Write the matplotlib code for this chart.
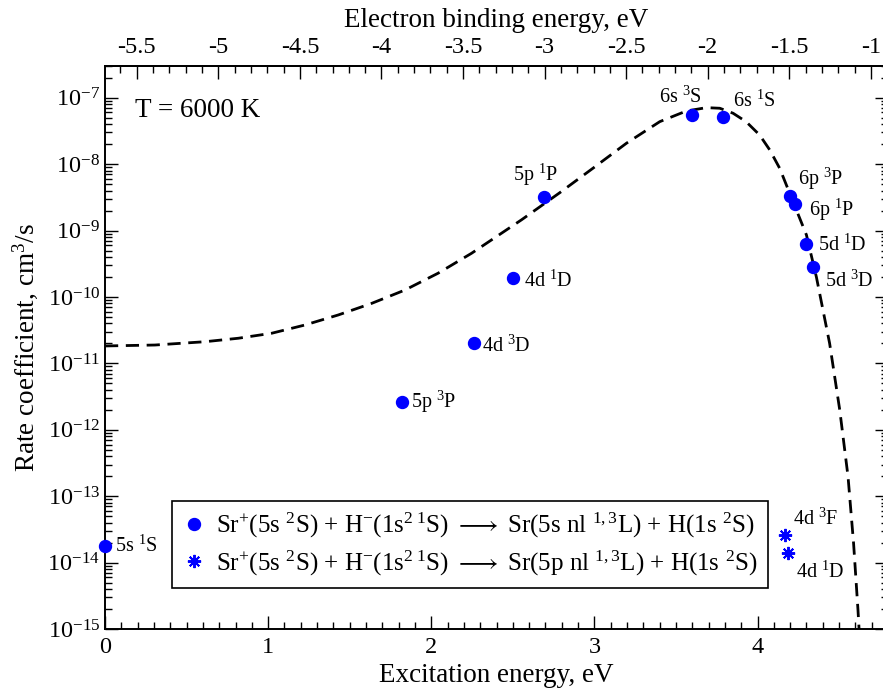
import matplotlib
matplotlib.use('Agg')
import matplotlib.pyplot as plt
from matplotlib.lines import Line2D
from matplotlib.ticker import (LogLocator, FixedLocator, MultipleLocator,
                               FuncFormatter, NullFormatter)
import numpy as np

plt.rcParams['font.family'] = ['Liberation Serif', 'DejaVu Serif']
plt.rcParams['mathtext.fontset'] = 'custom'
plt.rcParams['mathtext.rm'] = 'Liberation Serif'
plt.rcParams['mathtext.it'] = 'Liberation Serif:italic'
plt.rcParams['mathtext.bf'] = 'Liberation Serif:bold'
plt.rcParams['axes.unicode_minus'] = False
plt.rcParams['lines.scale_dashes'] = False

# ---------------- data ----------------
ionization_energy = 5.695  # eV, binding = excitation - IP

states_5s = ["5s $^1$S", "5p $^3$P", "4d $^3$D", "4d $^1$D", "5p $^1$P",
             "6s $^3$S", "6s $^1$S", "6p $^3$P", "6p $^1$P", "5d $^1$D", "5d $^3$D"]
energy_5s = [0.0, 1.82, 2.26, 2.50, 2.69, 3.60, 3.79, 4.20, 4.23, 4.30, 4.34]
rate_5s = [1.78e-14, 2.65e-12, 2.0e-11, 1.91e-10, 3.16e-9, 5.45e-8, 5.08e-8,
           3.36e-9, 2.49e-9, 6.28e-10, 2.86e-10]

states_5p = ["4d $^3$F", "4d $^1$D"]
energy_5p = [4.17, 4.19]
rate_5p = [2.6e-14, 1.41e-14]

curve_energy = [0.000, 0.306, 0.613, 0.817, 1.021, 1.225, 1.430, 1.634, 1.838,
                2.042, 2.247, 2.553, 2.788, 2.992, 3.197, 3.401, 3.564, 3.687,
                3.769, 3.850, 3.930, 4.013, 4.075, 4.136, 4.218, 4.300, 4.361,
                4.442, 4.504, 4.555, 4.589, 4.616, 4.625]
curve_rate = [1.83e-11, 1.89e-11, 2.12e-11, 2.39e-11, 2.84e-11, 3.78e-11,
              5.36e-11, 8.0e-11, 1.27e-10, 2.28e-10, 4.55e-10, 1.45e-9,
              3.72e-9, 8.71e-9, 2.07e-8, 4.37e-8, 6.32e-8, 7.10e-8, 6.95e-8,
              5.85e-8, 4.37e-8, 2.75e-8, 1.64e-8, 8.67e-9, 2.72e-9, 8.59e-10,
              2.0e-10, 2.01e-11, 2.0e-12, 1.97e-13, 1.95e-14, 1.93e-15, 7.9e-16]

legend_labels = [
    r"Sr$^{+}$(5s $^{2}$S) + H$^{-}$(1s$^{2\ 1}$S) $\longrightarrow$ Sr(5s nl $^{1,3}$L) + H(1s $^{2}$S)",
    r"Sr$^{+}$(5s $^{2}$S) + H$^{-}$(1s$^{2\ 1}$S) $\longrightarrow$ Sr(5p nl $^{1,3}$L) + H(1s $^{2}$S)",
]

# label offsets (pixels: dx right, dy up) -- styling only
offsets_5s_px = [(10, -6), (9, -6), (8, -8), (11.5, -8), (-31, 17), (-33, 12),
                 (10, 10), (7.5, 11), (14, -12), (12, -7), (12, -20)]
offsets_5p_px = [(7.5, 10), (7.5, -25.5)]

# ---------------- figure ----------------
W, H = 883, 689
fig = plt.figure(figsize=(W / 100, H / 100), dpi=100)
ax = fig.add_axes([105 / W, (H - 629) / H, (888 - 105) / W, (629 - 65.7) / H])

ax.set_yscale('log')
ax.set_xlim(0, 4.8)
ax.set_ylim(1e-15, 3.04e-7)

blue = '#0000ff'
star = (8, 2, 0)
ax.plot(curve_energy, curve_rate, color='black', lw=2.0, ls=(0, (9.5, 5.5)),
        zorder=2)
ax.plot(energy_5s, rate_5s, ls='none', marker='o', ms=8.6, color=blue,
        mec=blue, zorder=3, clip_on=False)
ax.plot(energy_5p, rate_5p, ls='none', marker=star, ms=9.5, mew=1.4,
        color=blue, zorder=3)

px2pt = 0.72
for name, e, r, (dx, dy) in zip(states_5s, energy_5s, rate_5s, offsets_5s_px):
    ax.annotate(name, (e, r), xytext=(dx * px2pt, dy * px2pt),
                textcoords='offset points', ha='left', va='baseline',
                fontsize=14.5)
for name, e, r, (dx, dy) in zip(states_5p, energy_5p, rate_5p, offsets_5p_px):
    ax.annotate(name, (e, r), xytext=(dx * px2pt, dy * px2pt),
                textcoords='offset points', ha='left', va='baseline',
                fontsize=14.5)

ax.text((135 - 105) / 783, (629 - 117) / 563.3, "T = 6000 K",
        transform=ax.transAxes, fontsize=19.5, ha='left', va='baseline')

# ticks
ax.xaxis.set_major_locator(MultipleLocator(1))
ax.xaxis.set_minor_locator(MultipleLocator(0.1))
ax.xaxis.set_major_formatter(FuncFormatter(lambda v, p: "%g" % v))
ax.yaxis.set_major_locator(FixedLocator([10.0 ** k for k in range(-15, -6)]))
ax.yaxis.set_minor_locator(LogLocator(base=10, subs=np.arange(2, 10), numticks=300))
ax.yaxis.set_minor_formatter(NullFormatter())
ax.yaxis.set_major_formatter(FuncFormatter(
    lambda v, p: r"$10^{%d}$" % int(round(np.log10(v)))))

ax.tick_params(which='both', direction='in', top=False, right=True,
               width=1.0, labelsize=17.5)
ax.tick_params(which='major', length=9.6)
ax.tick_params(which='minor', length=4.7)
ax.tick_params(axis='x', pad=5.5)
ax.tick_params(axis='y', pad=3.5)
for s in ax.spines.values():
    s.set_linewidth(1.4)

sec = ax.secondary_xaxis('top', functions=(lambda e: e - ionization_energy,
                                           lambda b: b + ionization_energy))
sec.xaxis.set_major_locator(FixedLocator(np.arange(-5.5, -0.99, 0.5)))
sec.xaxis.set_minor_locator(FixedLocator(np.arange(-5.6, -0.99, 0.1)))
sec.xaxis.set_major_formatter(FuncFormatter(lambda v, p: "%g" % round(v, 2)))
sec.tick_params(which='both', direction='in', width=1.0, labelsize=17.5, pad=5.5)
sec.tick_params(which='major', length=9.6)
sec.tick_params(which='minor', length=4.7)
sec.spines['top'].set_linewidth(1.4)
sec.set_xlabel("Electron binding energy, eV", fontsize=19.5, labelpad=7)

ax.set_xlabel("Excitation energy, eV", fontsize=19.5, labelpad=4)
ax.set_ylabel("Rate coefficient, cm$^3$/s", fontsize=19.5, labelpad=5)

handles = [Line2D([], [], ls='none', marker='o', ms=8.6, color=blue),
           Line2D([], [], ls='none', marker=star, ms=9.5, mew=1.4, color=blue)]
leg = ax.legend(handles, legend_labels, loc='lower left',
                bbox_to_anchor=((172 - 105) / 783, (629 - 588) / 563.3),
                borderaxespad=0, fontsize=18, frameon=True, fancybox=False,
                framealpha=1, edgecolor='black', handlelength=0.9,
                handletextpad=0.45, borderpad=0.42, labelspacing=0.32)
leg.get_frame().set_linewidth(1.2)

fig.savefig('out.png', dpi=100)
